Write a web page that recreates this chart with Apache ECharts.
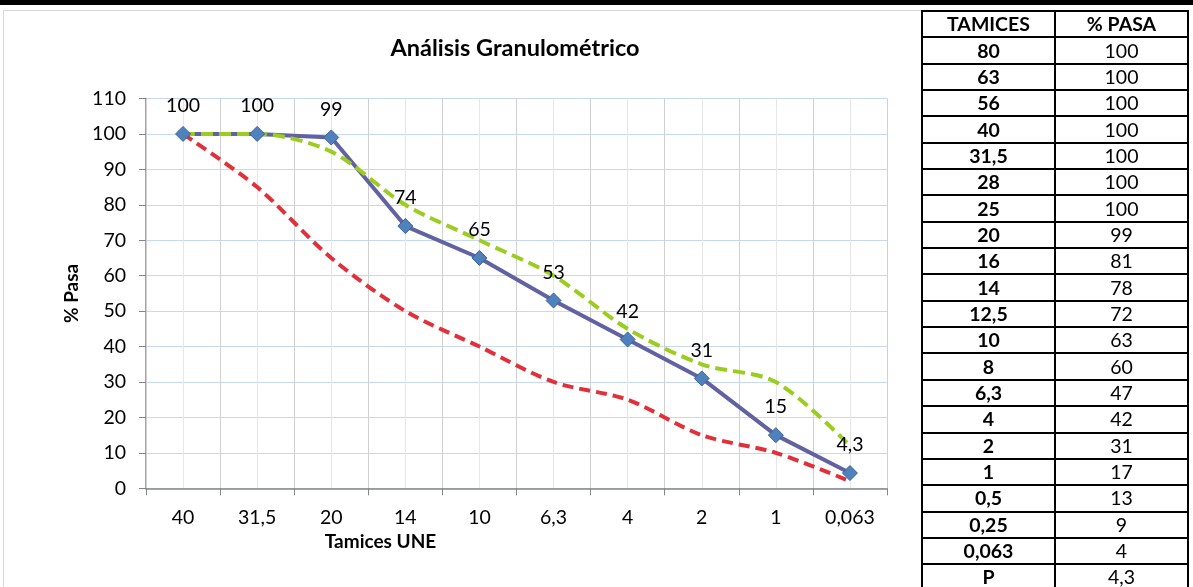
<!DOCTYPE html>
<html>
<head>
<meta charset="utf-8">
<script src="https://cdn.jsdelivr.net/npm/echarts@6/dist/echarts.min.js"></script>
<style>
  body { margin: 0; width: 1193px; height: 587px; overflow: hidden; background: #fff; font-family: Lato, "Open Sans", sans-serif; }
  .topbar { position: absolute; left: 0; top: 0; width: 1193px; height: 5px; background: #000; }
  .frame { position: absolute; left: 3px; top: 10px; width: 917px; height: 590px; border: 1px solid #d9d9d9; }
  #main { position: absolute; left: 0; top: 0; width: 1193px; height: 587px; }
  table { position: absolute; left: 921px; top: 10px; border-collapse: collapse; font-size: 19.5px; color: #000; table-layout: fixed; }
  tr { height: 26.35px; }
  td { border: 2px solid #000; width: 131px; padding: 0; text-align: center; line-height: 22px; }
  td.k { font-weight: bold; }
  tr.h td { font-weight: bold; }
</style>
</head>
<body>
<div class="topbar"></div>
<div class="frame"></div>
<div id="main"></div>
<table id="tabla"></table>
<script>
// datos de la grafica
var tamicesUNE = ["40", "31,5", "20", "14", "10", "6,3", "4", "2", "1", "0,063"];
var pasaMuestra = [100, 100, 99, 74, 65, 53, 42, 31, 15, 4.3];
var husoSuperior = [100, 100, 95, 80, 70, 60, 45, 35, 30, 12];
var husoInferior = [100, 85, 65, 50, 40, 30, 25, 15, 10, 2];

// datos de la tabla
var tablaTamices = ["80", "63", "56", "40", "31,5", "28", "25", "20", "16", "14", "12,5",
  "10", "8", "6,3", "4", "2", "1", "0,5", "0,25", "0,063", "P"];
var tablaPasa = ["100", "100", "100", "100", "100", "100", "100", "99", "81", "78", "72",
  "63", "60", "47", "42", "31", "17", "13", "9", "4", "4,3"];

var html = '<tr class="h"><td>TAMICES</td><td>% PASA</td></tr>';
for (var i = 0; i < tablaTamices.length; i++) {
  html += '<tr><td class="k">' + tablaTamices[i] + '</td><td>' + tablaPasa[i] + '</td></tr>';
}
document.getElementById("tabla").innerHTML = html;

var font = "Lato";
var chartDom = document.getElementById("main");
var myChart = echarts.init(chartDom);
var option;

option = {
  animation: false,
  title: {
    text: "Análisis Granulométrico",
    left: 510,
    textAlign: "center",
    top: 31,
    textStyle: { fontFamily: font, fontSize: 23.5, fontWeight: "bold", color: "#000" },
  },
  grid: { left: 146, top: 98.5, right: 306, bottom: 98.7, containLabel: false },
  xAxis: [
    {
      type: "category",
      data: tamicesUNE,
      boundaryGap: true,
      name: "Tamices UNE",
      nameLocation: "middle",
      nameGap: 39,
      nameTextStyle: {
        fontFamily: font, fontSize: 19, fontWeight: "bold", color: "#000",
        padding: [0, 272, 0, 0],
      },
      axisLine: { lineStyle: { color: "#868686", width: 1.5 } },
      axisTick: { show: true, length: 7, lineStyle: { color: "#868686" } },
      axisLabel: { fontFamily: font, fontSize: 19.5, color: "#000", margin: 19 },
      splitLine: { show: true, lineStyle: { color: "#d0d0d0", width: 1 } },
      z: 1,
    },
    {
      type: "value",
      min: 0,
      max: 20,
      interval: 1,
      position: "top",
      axisLine: { show: false },
      axisTick: { show: false },
      axisLabel: { show: false },
      splitLine: { show: true, lineStyle: { color: "#e6e6e6", width: 1 } },
      z: 0,
    },
  ],
  yAxis: {
    type: "value",
    min: 0,
    max: 110,
    interval: 10,
    name: "% Pasa",
    nameLocation: "middle",
    nameGap: 61,
    nameRotate: 90,
    nameTextStyle: { fontFamily: font, fontSize: 19, fontWeight: "bold", color: "#000" },
    axisLine: { show: true, lineStyle: { color: "#868686", width: 1.5 } },
    axisTick: { show: true, length: 7, lineStyle: { color: "#868686" } },
    axisLabel: { fontFamily: font, fontSize: 19.5, color: "#000", margin: 20 },
    splitLine: { show: true, lineStyle: { color: "#c6d9f0", width: 1 } },
  },
  series: [
    {
      name: "Muestra",
      type: "line",
      data: pasaMuestra,
      symbol: "none",
      lineStyle: { color: "#6262a2", width: 4 },
      z: 2,
    },
    {
      name: "Huso superior",
      type: "line",
      data: husoSuperior,
      smooth: 0.3,
      symbol: "none",
      lineStyle: { color: "#9acd1e", width: 4, type: [12, 6] },
      z: 3,
    },
    {
      name: "Huso inferior",
      type: "line",
      data: husoInferior,
      smooth: 0.3,
      symbol: "none",
      lineStyle: { color: "#e2303a", width: 4, type: [11, 6] },
      z: 3,
    },
    {
      name: "Puntos",
      type: "line",
      data: pasaMuestra,
      lineStyle: { width: 0, opacity: 0 },
      symbol: "diamond",
      symbolSize: 15,
      showAllSymbol: true,
      itemStyle: { color: "#4f81bd", borderColor: "#3b6294", borderWidth: 1 },
      label: {
        show: true,
        position: "top",
        distance: 10,
        fontFamily: font,
        fontSize: 19.5,
        color: "#000",
        formatter: function (p) {
          return String(p.value).replace(".", ",");
        },
      },
      z: 4,
    },
  ],
};

option && myChart.setOption(option);
</script>
</body>
</html>
